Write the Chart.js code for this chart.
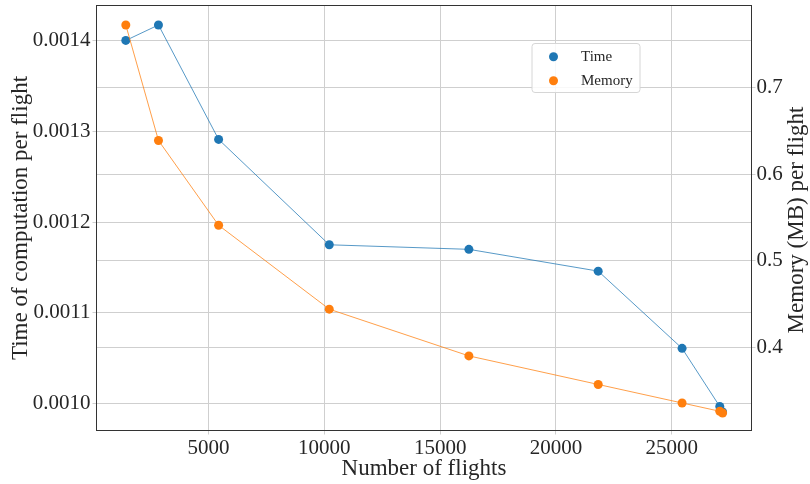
<!DOCTYPE html>
<html lang="en">
<head>
    <meta charset="UTF-8">
    <title>Time and memory per flight</title>
    <script src="https://cdn.jsdelivr.net/npm/chart.js"></script>
    <style>
        html, body { margin: 0; padding: 0; background: #fff; }
        #wrap { width: 810px; height: 484px; }
    </style>
</head>
<body>
    <div id="wrap"><canvas id="flightChart" width="810" height="484"></canvas></div>

<script>
    // values
    const flights = [1424, 2835, 5433, 10212, 16242, 21827, 25450, 27078, 27200];
    const timePerFlight = [0.001400, 0.001417, 0.001291, 0.001175, 0.001170, 0.001146, 0.001061, 0.000997, 0.000991];
    const memoryPerFlight = [0.7725, 0.639, 0.541, 0.444, 0.390, 0.357, 0.3356, 0.326, 0.324];

    const flightTicks = [5000, 10000, 15000, 20000, 25000];
    const timeTicks = [0.0010, 0.0011, 0.0012, 0.0013, 0.0014];
    const memoryTicks = [0.4, 0.5, 0.6, 0.7];

    const serif = "'Liberation Serif', 'Times New Roman', serif";
    const textColor = "#262626";
    const gridColor = "#cfcfcf";
    const blue = "#1f77b4";
    const orange = "#ff7f0e";

    function points(ys) {
        return flights.map((f, i) => ({ x: f, y: ys[i] }));
    }

    // keep the plot box where the picture has it
    function fixBox(size) {
        return s => {
            if (s.isHorizontal()) {
                s.height = size;
                s.paddingLeft = 0;
                s.paddingRight = 0;
            } else {
                s.width = size;
                s.paddingTop = 0;
                s.paddingBottom = 0;
            }
        };
    }

    // frame, right-hand title (reads bottom to top) and the legend inside the plot
    const extrasPlugin = {
        id: "extras",
        afterDraw(chart) {
            const ctx = chart.ctx;
            const a = chart.chartArea;
            ctx.save();

            ctx.strokeStyle = "#333";
            ctx.lineWidth = 1;
            ctx.strokeRect(a.left + 0.5, a.top + 0.5, a.right - a.left - 1, a.bottom - a.top - 1);

            ctx.fillStyle = textColor;
            ctx.font = "23px " + serif;
            ctx.textAlign = "center";
            ctx.textBaseline = "middle";
            ctx.translate(797, (a.top + a.bottom) / 2 + 2);
            ctx.rotate(-Math.PI / 2);
            ctx.fillText("Memory (MB) per flight", 0, 0);
            ctx.setTransform(1, 0, 0, 1, 0, 0);

            // legend box
            const bx = 532, by = 43.5, bw = 108, bh = 49;
            ctx.fillStyle = "rgba(255,255,255,0.85)";
            ctx.strokeStyle = "#d6d6d6";
            ctx.beginPath();
            ctx.roundRect(bx, by, bw, bh, 3);
            ctx.fill();
            ctx.stroke();

            ctx.font = "15px " + serif;
            ctx.textAlign = "left";
            chart.data.datasets.forEach((ds, i) => {
                const cy = 56.7 + i * 24;
                ctx.fillStyle = ds.pointBackgroundColor;
                ctx.beginPath();
                ctx.arc(553.5, cy, 4.5, 0, Math.PI * 2);
                ctx.fill();
                ctx.fillStyle = textColor;
                ctx.fillText(ds.label, 581, cy);
            });
            ctx.restore();
        }
    };

    new Chart(document.getElementById("flightChart").getContext("2d"), {
        type: "scatter",
        data: {
            datasets: [
                {
                    label: "Time",
                    data: points(timePerFlight),
                    yAxisID: "yTime",
                    showLine: true,
                    borderColor: "rgba(31,119,180,0.75)",
                    borderWidth: 1,
                    backgroundColor: blue,
                    pointBackgroundColor: blue,
                    pointBorderWidth: 0,
                    pointRadius: 4.5,
                    order: 2
                },
                {
                    label: "Memory",
                    data: points(memoryPerFlight),
                    yAxisID: "yMem",
                    showLine: true,
                    borderColor: "rgba(255,127,14,0.75)",
                    borderWidth: 1,
                    backgroundColor: orange,
                    pointBackgroundColor: orange,
                    pointBorderWidth: 0,
                    pointRadius: 4.5,
                    order: 1
                }
            ]
        },
        options: {
            responsive: false,
            animation: false,
            layout: { padding: { top: 5, left: 0, right: 0, bottom: 0 } },
            plugins: {
                legend: { display: false },
                tooltip: { enabled: false }
            },
            scales: {
                x: {
                    type: "linear",
                    min: 137,
                    max: 28470,
                    afterBuildTicks: s => { s.ticks = flightTicks.map(v => ({ value: v })); },
                    afterFit: fixBox(53),
                    ticks: { font: { family: serif, size: 21 }, color: textColor, padding: 1, maxRotation: 0, callback: v => String(v) },
                    grid: { color: gridColor, tickLength: 3.5 },
                    border: { display: false },
                    title: { display: true, text: "Number of flights", color: textColor, font: { family: serif, size: 23 }, padding: { top: 0, bottom: 1 } }
                },
                yTime: {
                    position: "left",
                    min: 0.00097,
                    max: 0.001439,
                    afterBuildTicks: s => { s.ticks = timeTicks.map(v => ({ value: v })); },
                    afterFit: fixBox(96),
                    ticks: { font: { family: serif, size: 21 }, color: textColor, padding: 2, callback: v => v.toFixed(4) },
                    grid: { color: gridColor, tickLength: 3.5 },
                    border: { display: false },
                    title: { display: true, text: "Time of computation per flight", color: textColor, font: { family: serif, size: 23 }, padding: { top: 7, bottom: 0 } }
                },
                yMem: {
                    position: "right",
                    min: 0.3032,
                    max: 0.7956,
                    afterBuildTicks: s => { s.ticks = memoryTicks.map(v => ({ value: v })); },
                    afterFit: fixBox(58),
                    ticks: { font: { family: serif, size: 21 }, color: textColor, padding: 1, callback: v => v.toFixed(1) },
                    grid: { color: gridColor, tickLength: 3.5 },
                    border: { display: false }
                }
            }
        },
        plugins: [extrasPlugin]
    });
</script>
</body>
</html>
